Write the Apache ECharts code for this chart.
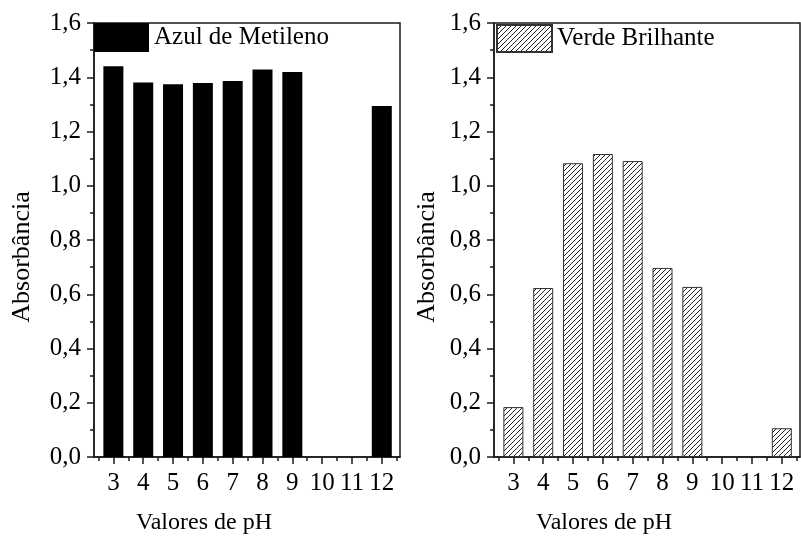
<!DOCTYPE html>
<html><head><meta charset="utf-8">
<script src="https://cdn.jsdelivr.net/npm/echarts@6/dist/echarts.min.js"></script>
<style>html,body{margin:0;padding:0;background:#fff}#c{width:801px;height:540px}</style>
</head><body><div id="c"></div>
<script>
const phValues = [3, 4, 5, 6, 7, 8, 9, 10, 11, 12];
const azulValues = [1.441, 1.381, 1.374, 1.379, 1.386, 1.429, 1.419, null, null, 1.294];
const verdeValues = [0.184, 0.623, 1.083, 1.117, 1.091, 0.697, 0.627, null, null, 0.106];
const xMinorTicks = [2.5, 3.5, 4.5, 5.5, 6.5, 7.5, 8.5, 9.5, 10.5, 11.5, 12.5];
const seriesNames = ['Azul de Metileno', 'Verde Brilhante'];
const xTitle = 'Valores de pH';
const yTitle = 'Absorbância';

const FONT = 'Liberation Serif';
const AX = '#1a1a1a';

function hatch() {
  const s = 5, c = document.createElement('canvas');
  c.width = s; c.height = s;
  const g = c.getContext('2d');
  g.fillStyle = '#fff'; g.fillRect(0, 0, s, s);
  g.strokeStyle = '#222'; g.lineWidth = 1;
  g.beginPath();
  g.moveTo(0, s); g.lineTo(s, 0);
  g.moveTo(-1, 1); g.lineTo(1, -1);
  g.moveTo(s - 1, s + 1); g.lineTo(s + 1, s - 1);
  g.stroke();
  return c;
}

const chart = echarts.init(document.getElementById('c'), null, {renderer: 'canvas'});

function xAxes(gi) {
  return [
    {
      gridIndex: gi, type: 'value', min: 2.35, max: 12.61,
      axisLine: {show: true, lineStyle: {color: AX, width: 1.5}},
      axisTick: {show: true, inside: false, length: 7, customValues: phValues, lineStyle: {color: AX, width: 1.5}},
      axisLabel: {customValues: phValues, fontFamily: FONT, fontSize: 25, color: '#000', margin: 14},
      splitLine: {show: false},
      name: xTitle, nameLocation: 'middle', nameGap: 54,
      nameTextStyle: {fontFamily: FONT, fontSize: 24, color: '#000', padding: [0, 86, 0, 0]}
    },
    {
      gridIndex: gi, type: 'value', min: 2.35, max: 12.61, position: 'bottom',
      axisLine: {show: false},
      axisTick: {show: true, inside: false, length: 4, customValues: xMinorTicks, lineStyle: {color: AX, width: 1.5}},
      axisLabel: {show: false, customValues: xMinorTicks},
      splitLine: {show: false}
    }
  ];
}

function yAxis(gi, gap) {
  return {
    gridIndex: gi, type: 'value', min: 0, max: 1.6, interval: 0.2,
    axisLine: {show: true, lineStyle: {color: AX, width: 1.5}},
    axisTick: {show: true, inside: false, length: 7, lineStyle: {color: AX, width: 1.5}},
    minorTick: {show: true, splitNumber: 2, length: 4, lineStyle: {color: AX, width: 1.5}},
    axisLabel: {fontFamily: FONT, fontSize: 25, color: '#000', margin: 13,
      formatter: v => v.toFixed(1).replace('.', ',')},
    splitLine: {show: false},
    name: yTitle, nameLocation: 'middle', nameGap: gap,
    nameTextStyle: {fontFamily: FONT, fontSize: 26, color: '#000', padding: [0, 34, 0, 0]}
  };
}

const pattern = {image: hatch(), repeat: 'repeat'};

chart.setOption({
  animation: false,
  backgroundColor: '#fff',
  grid: [
    {left: 94, top: 23, width: 306, height: 434, show: true, borderColor: AX, borderWidth: 1.5, backgroundColor: 'transparent'},
    {left: 494, top: 23, width: 306, height: 434, show: true, borderColor: AX, borderWidth: 1.5, backgroundColor: 'transparent'}
  ],
  xAxis: [...xAxes(0), ...xAxes(1)],
  yAxis: [yAxis(0, 59), yAxis(1, 54)],
  legend: [
    {left: 94, top: 23, padding: 0, itemWidth: 55, itemHeight: 29, icon: 'rect',
      data: [seriesNames[0]], textStyle: {fontFamily: FONT, fontSize: 25, color: '#000'}},
    {left: 496, top: 24, padding: 0, itemWidth: 55, itemHeight: 27, icon: 'rect',
      data: [seriesNames[1]], textStyle: {fontFamily: FONT, fontSize: 25, color: '#000'}}
  ],
  series: [
    {
      name: seriesNames[0], type: 'bar', xAxisIndex: 0, yAxisIndex: 0, barWidth: 20,
      itemStyle: {color: '#000'},
      data: phValues.map((x, i) => [x, azulValues[i]])
    },
    {
      name: seriesNames[1], type: 'bar', xAxisIndex: 2, yAxisIndex: 1, barWidth: 20,
      itemStyle: {color: pattern, borderColor: '#333', borderWidth: 1},
      data: phValues.map((x, i) => [x, verdeValues[i]])
    }
  ]
});
</script>
</body></html>
